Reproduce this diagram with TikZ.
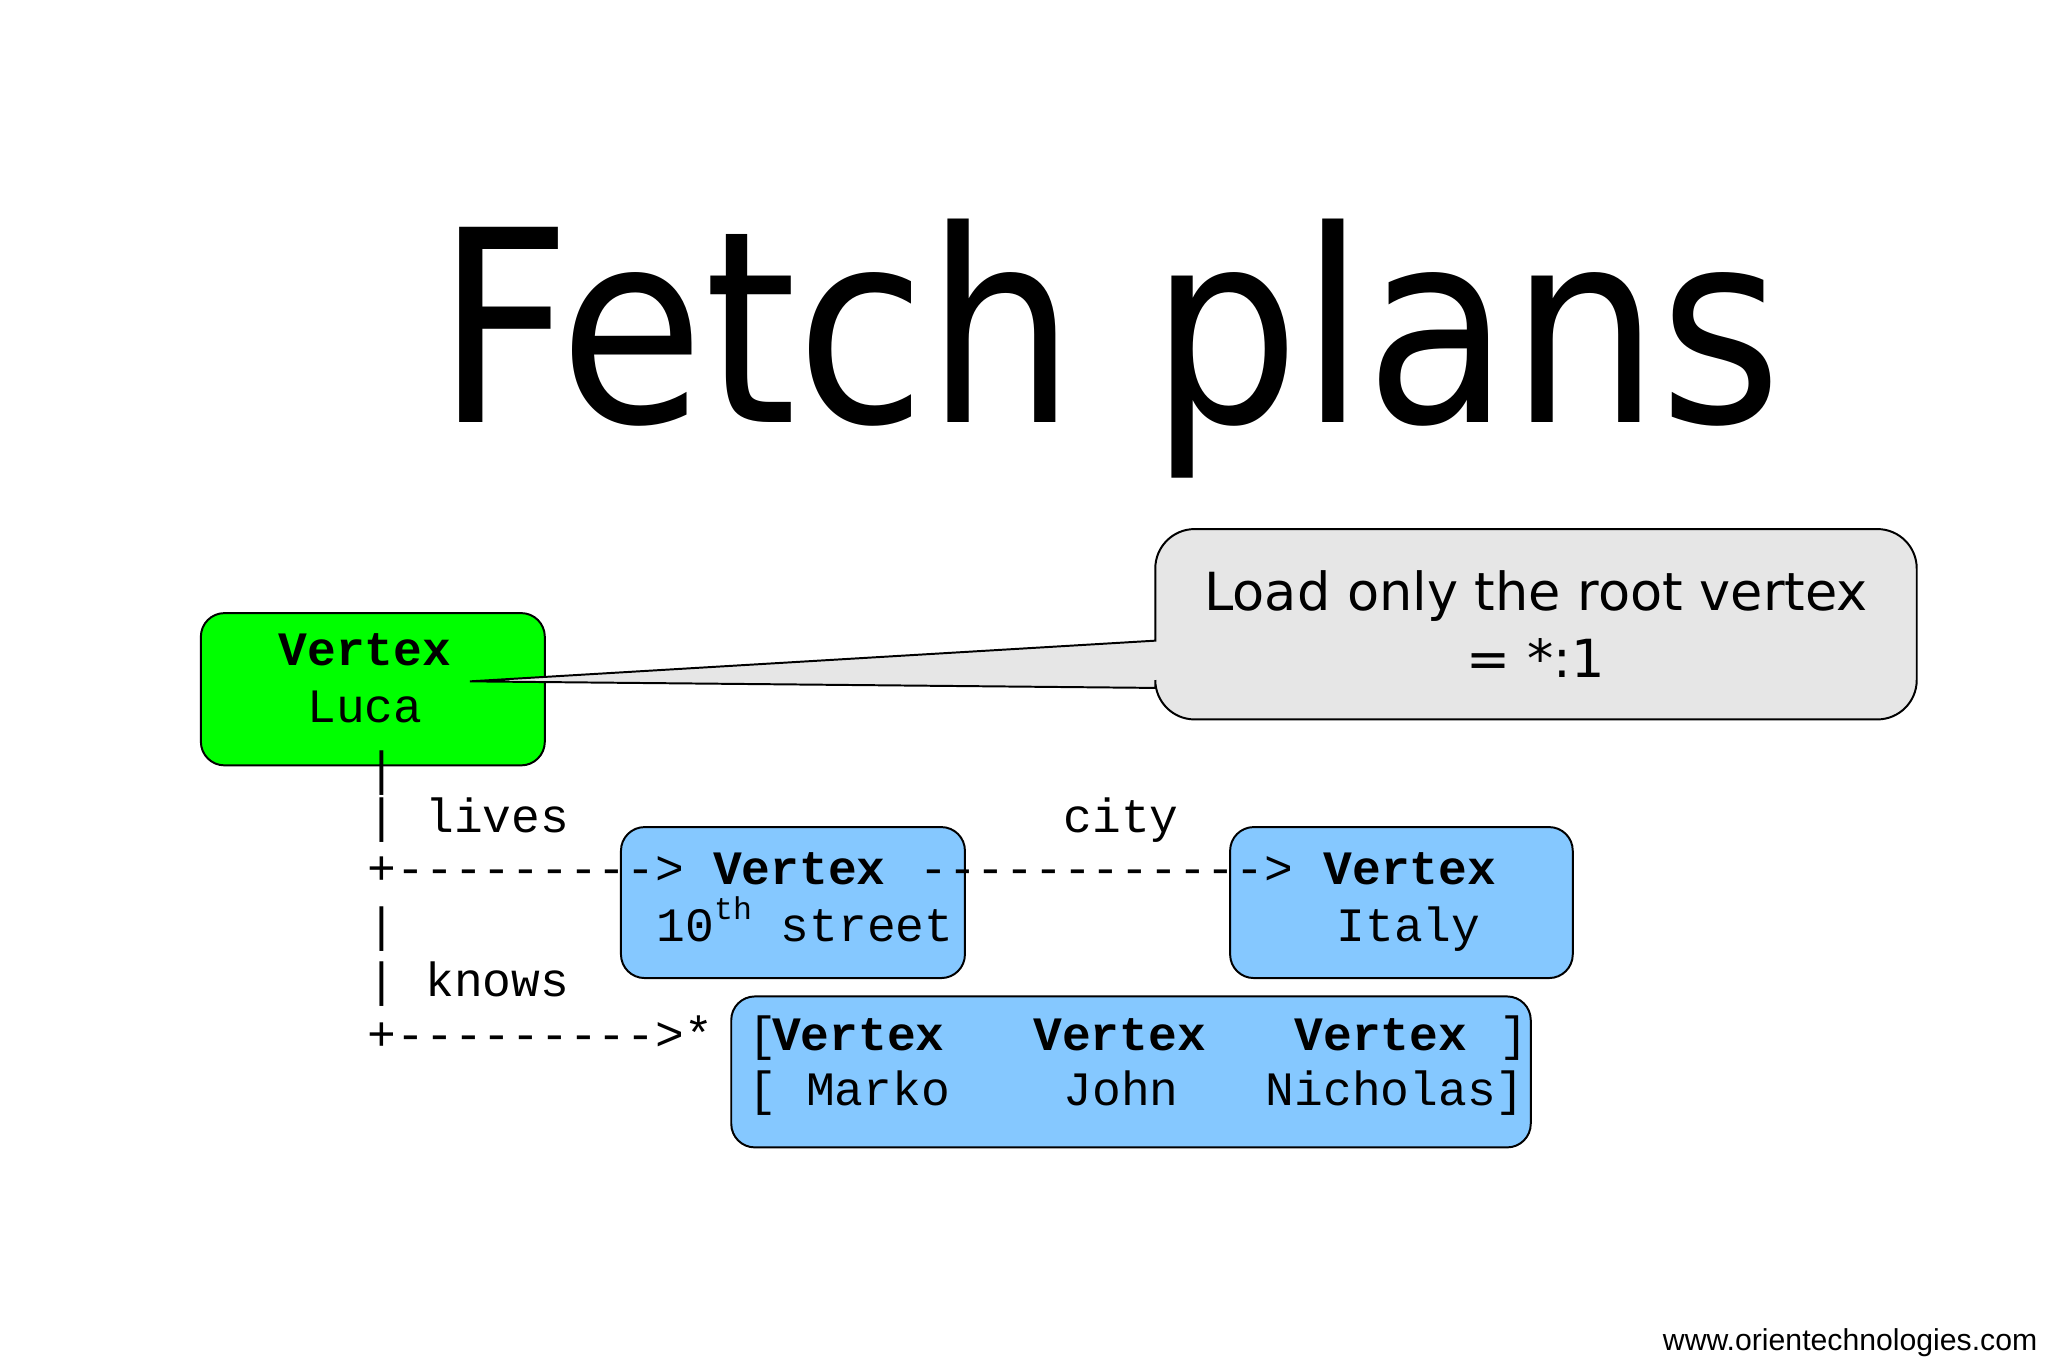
\documentclass[tikz,border=0pt]{standalone}
\usepackage{fontspec}
\setmainfont{DejaVu Sans}
\newfontfamily\mono{Liberation Mono}
\newfontfamily\lsans{Liberation Sans}
\begin{document}
\begin{tikzpicture}[x=1pt,y=-1pt,
  box/.style={draw=black,line width=1.5pt,rounded corners=18pt},
  m/.style={font=\mono\fontsize{36.5}{40}\selectfont,inner sep=0pt,anchor=base west},
  mb/.style={m,font=\mono\bfseries\fontsize{36.5}{40}\selectfont}]
\useasboundingbox (0,0) rectangle (1560,1040);
\node[font=\fontsize{204}{220}\selectfont,inner sep=0pt,anchor=base] (title) at (845,322) {\scalebox{0.88}[1]{Fetch plans}};
% green box
\draw[box,fill={rgb,255:red,0;green,255;blue,0}] (153,467) rectangle (415,583);
\node[mb,anchor=base] (v1) at (278,507) {Vertex};
\node[m,anchor=base] (luca) at (278,550) {Luca};
% callout
\draw[line width=1.5pt,fill={rgb,255:red,230;green,230;blue,230}]
  (880,488) [rounded corners=30pt] -- (880,403) -- (1460,403) -- (1460,548) -- (880,548) [sharp corners] -- (880,524) -- (358,519) -- cycle;
\node[font=\fontsize{40}{48}\selectfont,inner sep=0pt,anchor=base] (c1) at (1170,465) {Load only the root vertex};
\node[font=\fontsize{40}{48}\selectfont,inner sep=0pt,anchor=base] (c2) at (1170,516) {= *:1};
% blue boxes
\draw[box,fill={rgb,255:red,133;green,200;blue,255}] (473,630) rectangle (735,745);
\draw[box,fill={rgb,255:red,133;green,200;blue,255}] (937,630) rectangle (1198,745);
\draw[box,fill={rgb,255:red,133;green,200;blue,255}] (557,759) rectangle (1166,874);
% ascii art
\node[m] (a0) at (280,598) {|};
\node[m] (a1) at (280,634) {| lives};
\node[m] (a2) at (280,674) {+--------->};
\node[mb] (v2) at (543,674) {Vertex};
\node[m] (a3) at (700,674) {------------>};
\node[m] (city) at (810,634) {city};
\node[mb] (v3) at (1008,674) {Vertex};
\node[m] (st) at (500,717) {10\raisebox{0.45em}{\fontsize{24}{26}\selectfont th} street};
\node[m] (it) at (1018,717) {Italy};
\node[m] (a4) at (280,717) {|};
\node[m] (a5) at (280,759) {| knows};
\node[m] (a6) at (280,800) {+--------->*};
\node[m] (b1) at (570,800) {[};
\node[mb] (v4) at (588,800) {Vertex};
\node[mb] (v5) at (787,800) {Vertex};
\node[mb] (v6) at (986,800) {Vertex};
\node[m] (b2) at (1142,800) {]};
\node[m] (n1) at (570,842) {[ Marko};
\node[m] (n2) at (810,842) {John};
\node[m] (n3) at (964,842) {Nicholas]};
\node[font=\lsans\fontsize{23}{26}\selectfont,inner sep=0pt,anchor=base east] (url) at (1552,1029) {www.orientechnologies.com};
\end{tikzpicture}
\end{document}
